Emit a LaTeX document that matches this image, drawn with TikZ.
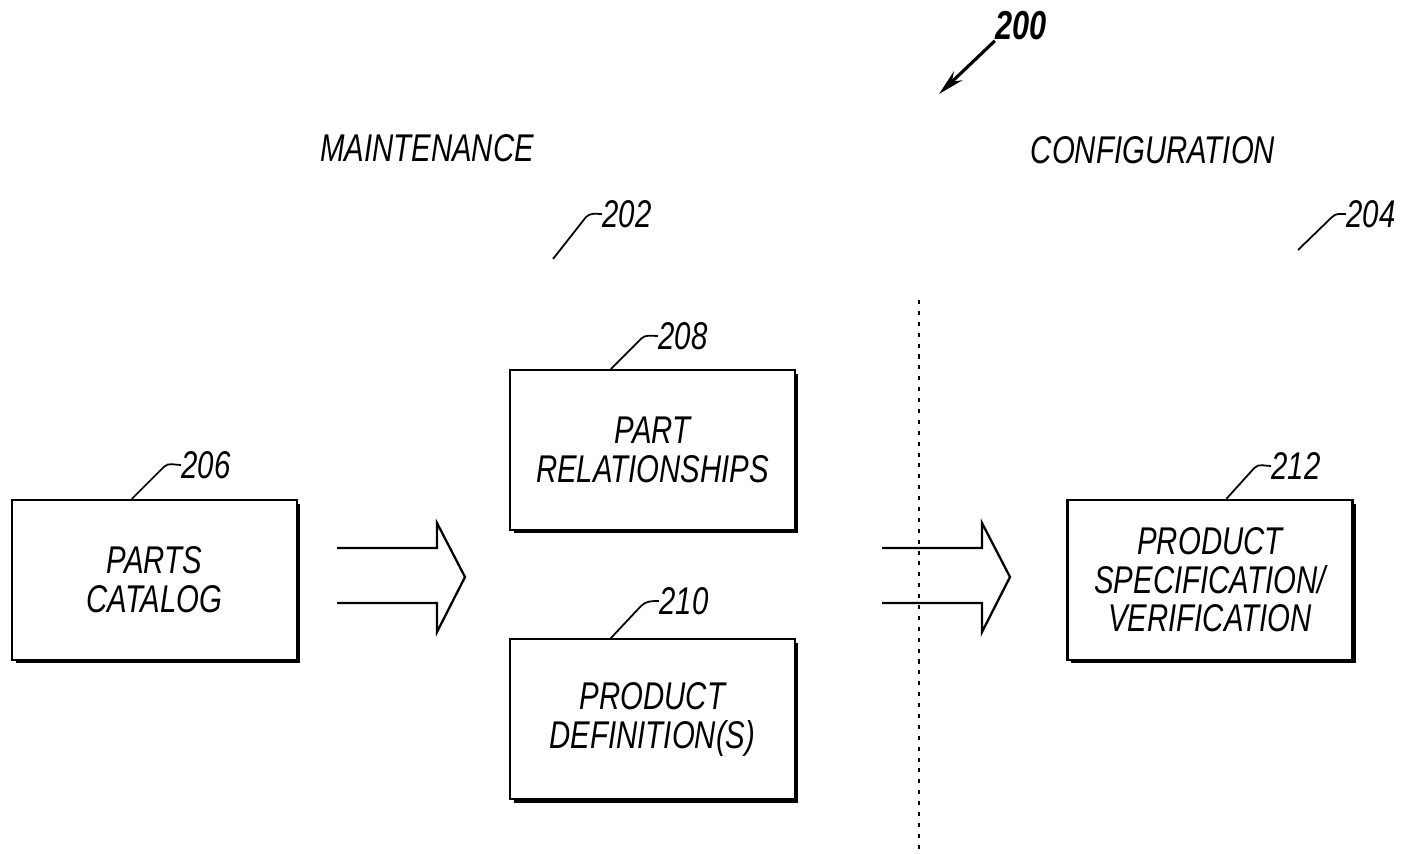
\documentclass[tikz,border=0pt]{standalone}
\usepackage{fontspec}
\setmainfont{Liberation Sans}[FakeStretch=0.76]
\usetikzlibrary{positioning, shadows, arrows.meta}
\tikzset{B/.style={draw, fill=white, line width=1.3pt, minimum width=5.7cm, minimum height=3.2cm, align=center, font=\fontsize{22}{22}\selectfont\itshape, drop shadow={opacity=1, fill=black, shadow xshift=0.07cm, shadow yshift=-0.07cm}}}
\tikzset{N/.style={inner sep=0pt, font=\fontsize{22}{22}\selectfont\itshape}}
\tikzset{lead/.style={line width=1pt}}
\newcommand{\fat}[1]{\draw[line width=1.3pt, line join=miter] (#1) -- ++(100,0) -- ++(0,-25) -- ++(28,54) -- ++(-28,55) -- ++(0,-29) -- ++(-100,0);}

\begin{document}
\begin{tikzpicture}[x=0.02cm, y=-0.02cm, semithick]
\useasboundingbox (0,0) rectangle (1416,853);
\node (H1) [N] at (427,148) {MAINTENANCE};
\node (H2) [N] at (1153,150) {CONFIGURATION};
\node (L200) [N, font=\fontsize{23}{23}\selectfont\bfseries\itshape] at (1021,26) {200};
\node (L202) [N] at (627,214) {202};
\node (L204) [N] at (1371,214) {204};
%
\node (B1) [B] at (154.5,580) {PARTS\\CATALOG};
\node (B2) [B] at (652.5,450) {PART\\RELATIONSHIPS};
\node (B3) [B, below=2.14cm of B2] {PRODUCT\\DEFINITION(S)};
\node (B4) [B] at (1210,580) {PRODUCT\\SPECIFICATION/\\VERIFICATION};
\node (L206) [N] at (206,465) {206};
\node (L208) [N] at (683,336) {208};
\node (L210) [N] at (684,601) {210};
\node (L212) [N] at (1296,466) {212};
%
\coordinate (T200) at (939,94);
\coordinate (C202) at (553,259);
\coordinate (C204) at (1298,250);
\coordinate (A1) at (337,548);
\coordinate (A2) at (882,548);
\coordinate (D1) at (919,300);
\coordinate (D2) at (919,853);
%
\draw[line width=1.8pt, -{Stealth[length=15pt, width=7pt]}] (L200.south west) -- (T200);
\draw[lead] (C202) -- ++(33,-42) to[out=45,in=180] (L202.west);
\draw[lead] (C204) -- ++(34,-33) to[out=45,in=180] (L204.west);
\draw[lead] ([xshift=2.42cm]B1.north west) -- ++(32,-32) to[out=45,in=180] (L206.west);
\draw[lead] ([xshift=2.04cm]B2.north west) -- ++(30,-30) to[out=45,in=180] (L208.west);
\draw[lead] ([xshift=2.04cm]B3.north west) -- ++(30,-32) to[out=45,in=180] (L210.west);
\draw[lead] ([xshift=3.2cm]B4.north west) -- ++(28,-31) to[out=45,in=180] (L212.west);
\fat{A1}
\fat{A2}
\draw[line width=1.1pt, dash pattern=on 2.3pt off 3.9pt] (D1) -- (D2);
\end{tikzpicture}
\end{document}
